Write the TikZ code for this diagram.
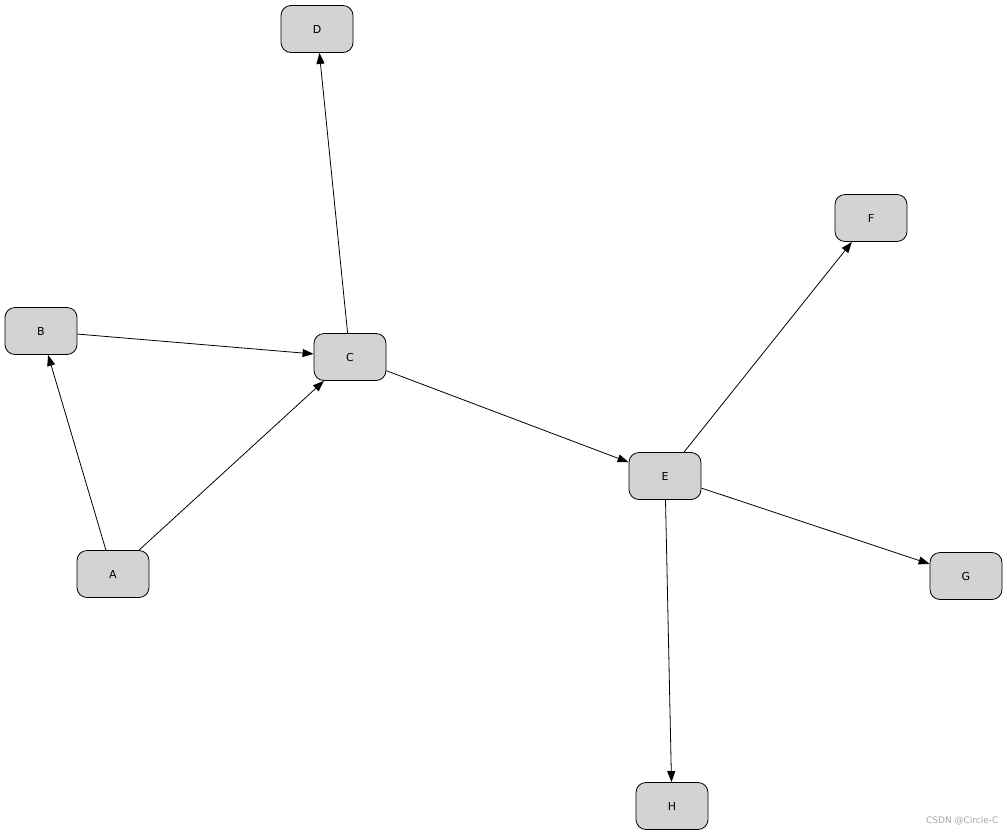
\documentclass[tikz,border=0pt]{standalone}
\usepackage{fontspec}
\setmainfont{DejaVu Sans}
\usetikzlibrary{arrows.meta}
\begin{document}
\begin{tikzpicture}[x=1pt,y=-1pt,
  nd/.style={draw,fill={rgb,255:red,211;green,211;blue,211},rounded corners=10pt,minimum width=72pt,minimum height=47pt,font=\fontsize{11}{13}\selectfont,line width=0.8pt},
  ar/.style={-{Triangle[length=11pt,width=8pt]},line width=0.8pt}]
\useasboundingbox (0,0) rectangle (1007,836);
\node[nd] (D) at (317,29) {D};
\node[nd] (F) at (871,218) {F};
\node[nd] (B) at (41,331) {B};
\node[nd] (C) at (350,357) {C};
\node[nd] (E) at (665,476) {E};
\node[nd] (A) at (113,574) {A};
\node[nd] (G) at (966,576) {G};
\node[nd] (H) at (672,806) {H};
\draw[ar] (A) -- (B);
\draw[ar] (A) -- (C);
\draw[ar] (B) -- (C);
\draw[ar] (C) -- (D);
\draw[ar] (C) -- (E);
\draw[ar] (E) -- (F);
\draw[ar] (E) -- (G);
\draw[ar] (E) -- (H);
\node[text=gray!70,font=\fontsize{9}{11}\selectfont,anchor=east] (wm) at (1002,821) {CSDN @Circle-C};
\end{tikzpicture}
\end{document}
